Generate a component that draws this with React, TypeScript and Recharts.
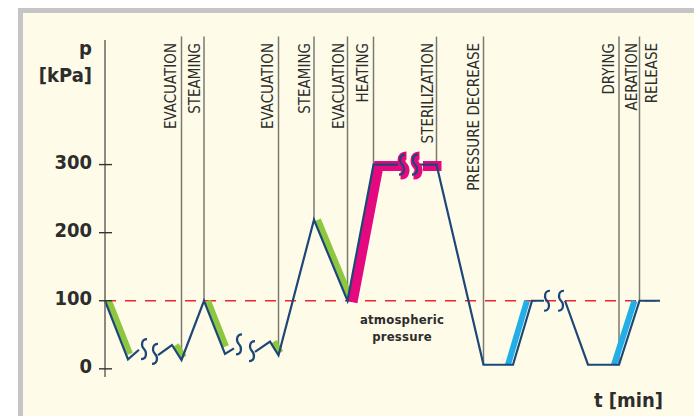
import React from "react";
import { ComposedChart, Line, XAxis, YAxis, ReferenceLine, ReferenceDot, Label } from "recharts";

const FONT = '"Liberation Sans Narrow", "DejaVu Sans Condensed", "Arial Narrow", sans-serif';
const BLUE = "#1d4778";
const GREEN = "#8dc63f";
const MAGENTA = "#e5097f";
const CYAN = "#22aee6";
const LINE_GRAY = "#7b7a72";
const TEXT = "#2d2d2d";

// pressure curve over time, p: null marks a break in the line
const pressure = [
  { t: 0, p: 100 }, { t: 4.6, p: 14 }, { t: 6.8, p: 28 }, { t: 8.5, p: null },
  { t: 10.6, p: 20 }, { t: 13.4, p: 35 }, { t: 15.3, p: 13 }, { t: 19.8, p: 100 },
  { t: 24, p: 22 }, { t: 25.8, p: 30 }, { t: 28, p: null },
  { t: 30, p: 25 }, { t: 33, p: 40 }, { t: 34.7, p: 20 }, { t: 41.8, p: 219 },
  { t: 48.5, p: 100 }, { t: 53.7, p: 300 }, { t: 58.6, p: 300 }, { t: 60.6, p: null },
  { t: 62.6, p: 300 }, { t: 66.3, p: 300 }, { t: 75.7, p: 6 }, { t: 81.6, p: 6 },
  { t: 85.4, p: 100 }, { t: 87.8, p: 100 }, { t: 89.8, p: null },
  { t: 92, p: 100 }, { t: 96.6, p: 6 }, { t: 102.8, p: 6 }, { t: 106.9, p: 100 }, { t: 111, p: 100 },
];

// highlighted stretches
const steamingParts = [
  [{ t: 0, p: 100 }, { t: 4.2, p: 22 }],
  [{ t: 13.4, p: 35 }, { t: 15, p: 17 }],
  [{ t: 19.8, p: 100 }, { t: 23.4, p: 33 }],
  [{ t: 33, p: 40 }, { t: 34.3, p: 24 }],
  [{ t: 41.8, p: 219 }, { t: 48.5, p: 100 }],
];
const heatingPart = [
  { t: 48.5, p: 100 }, { t: 53.7, p: 300 }, { t: 58.6, p: 300 }, { t: 60.6, p: null },
  { t: 62.6, p: 300 }, { t: 66.3, p: 300 },
];
const aerationParts = [
  [{ t: 81.6, p: 6 }, { t: 85.4, p: 100 }],
  [{ t: 102.8, p: 6 }, { t: 106.9, p: 100 }],
];

// time-axis breaks
const breaks = [
  { t: 7.8, p: 29 }, { t: 10, p: 22 }, { t: 26.8, p: 36 }, { t: 29.4, p: 26 },
  { t: 88.4, p: 100 }, { t: 91.2, p: 100 },
];
const sterilizationBreaks = [{ t: 59.4, p: 300 }, { t: 62, p: 300 }];

const phaseNames = [
  "EVACUATION", "STEAMING", "EVACUATION", "STEAMING", "EVACUATION", "HEATING",
  "STERILIZATION", "PRESSURE DECREASE", "DRYING", "AERATION", "RELEASE",
];
const phaseTimes = [15.3, 19.8, 34.7, 41.8, 48.5, 53.7, 66.3, 75.7, 102.8, 106.9, 106.9];
const phaseLineEnds = [13, 100, 20, 219, 100, 300, 300, 6, 6, 100, null];
const labelDx = [-11, -9.5, -11, -9.5, -9, -11, -9, -10, -10, -7.5, 12.5];

const yTicks = [0, 100, 200, 300];
const atmospheric = 100;
const Y_TOP = 483;

function PTick({ x, y, payload }: any) {
  return (
    <g>
      <line x1={x - 6} x2={x + 7} y1={y} y2={y} stroke="#333" strokeWidth={1.4} />
      <text x={x - 13} y={y} dy={4} textAnchor="end" fontFamily={FONT} fontWeight="bold" fontSize={20} fill={TEXT}>
        {payload.value}
      </text>
    </g>
  );
}

function squigglePath(x: number, y: number) {
  return `M${x + 3},${y - 10} C${x - 3},${y - 10} ${x - 3},${y - 3} ${x},${y} C${x + 3},${y + 3} ${x + 3},${y + 10} ${x - 3},${y + 10}`;
}

function Squiggle({ cx, cy, halo }: any) {
  const d = squigglePath(cx, cy);
  return (
    <g>
      {halo && <path d={d} fill="none" stroke={MAGENTA} strokeWidth={8} transform="translate(1.5,1)" />}
      <path d={d} fill="none" stroke={BLUE} strokeWidth={2.2} />
    </g>
  );
}

function PhaseLabel({ cx, cy, text, dx }: any) {
  const x = cx + dx;
  const y = cy + 3;
  return (
    <text x={x} y={y} dy={5.4} transform={`rotate(-90 ${x} ${y})`} textAnchor="end"
      fontFamily={FONT} fontSize={15} fill={TEXT}>
      {text}
    </text>
  );
}

export default function App() {
  return (
    <div style={{ position: "absolute", left: 0, top: 0, width: 694, height: 416, background: "#fff" }}>
      <style>{`
        .band-green { transform: translate(4px, 0px); }
        .band-magenta { transform: translate(5px, 1.5px); }
        .band-cyan { transform: translate(-5px, 0px); }
      `}</style>
      <div style={{
        position: "absolute", left: 18, top: 8, right: 0, bottom: 0, background: "#fefce8",
        borderTop: "5px solid #c5c5c7", borderLeft: "5px solid #c5c5c7",
      }} />
      <div style={{ position: "absolute", left: 0, top: 0 }}>
        <ComposedChart width={694} height={416} margin={{ top: 40, right: 29, bottom: 0, left: 0 }}>
          <XAxis type="number" dataKey="t" domain={[0, 112]} axisLine={false} tickLine={false} tick={false} height={39}>
            <Label content={({ viewBox }: any) => (
              <text x={viewBox.x + viewBox.width - 2} y={viewBox.y + 30} textAnchor="end"
                fontFamily={FONT} fontWeight="bold" fontSize={20} fill={TEXT}>t [min]</text>
            )} />
          </XAxis>
          <YAxis type="number" dataKey="p" domain={[-12, Y_TOP]} ticks={yTicks} interval={0} width={105}
            axisLine={{ stroke: "#66655f", strokeWidth: 1.5 }} tickLine={false} tickSize={0} tickMargin={0}
            tick={(props: any) => <PTick {...props} />}>
            <Label content={({ viewBox }: any) => (
              <g fontFamily={FONT} fontWeight="bold" fontSize={20} fill={TEXT} textAnchor="end">
                <text x={viewBox.x + viewBox.width - 13} y={viewBox.y + 15}>p</text>
                <text x={viewBox.x + viewBox.width - 13} y={viewBox.y + 42}>[kPa]</text>
              </g>
            )} />
          </YAxis>

          {phaseNames.map((name, i) =>
            phaseLineEnds[i] === null ? null : (
              <ReferenceLine key={`pl-${i}`} ifOverflow="visible" stroke={LINE_GRAY} strokeWidth={1.5}
                segment={[{ x: phaseTimes[i], y: Y_TOP + 5 }, { x: phaseTimes[i], y: phaseLineEnds[i] as number }]} />
            )
          )}
          {phaseNames.map((name, i) => (
            <ReferenceDot key={`lb-${i}`} x={phaseTimes[i]} y={Y_TOP} ifOverflow="visible"
              shape={(props: any) => <PhaseLabel cx={props.cx} cy={props.cy} text={name} dx={labelDx[i]} />} />
          ))}

          <ReferenceLine ifOverflow="visible" stroke="#e8262b" strokeWidth={1.6} strokeDasharray="11 9"
            segment={[{ x: 0, y: atmospheric }, { x: 111.5, y: atmospheric }]} />

          {steamingParts.map((part, i) => (
            <Line key={`g-${i}`} data={part} dataKey="p" type="linear" className="band-green" stroke={GREEN}
              strokeWidth={6} dot={false} activeDot={false} isAnimationActive={false} />
          ))}
          <Line data={heatingPart} dataKey="p" type="linear" className="band-magenta" stroke={MAGENTA}
            strokeWidth={10} dot={false} activeDot={false} isAnimationActive={false} />
          {aerationParts.map((part, i) => (
            <Line key={`c-${i}`} data={part} dataKey="p" type="linear" className="band-cyan" stroke={CYAN}
              strokeWidth={6} dot={false} activeDot={false} isAnimationActive={false} />
          ))}
          <Line data={pressure} dataKey="p" type="linear" stroke={BLUE} strokeWidth={2.2}
            dot={false} activeDot={false} isAnimationActive={false} />

          {breaks.map((b, i) => (
            <ReferenceDot key={`br-${i}`} x={b.t} y={b.p} shape={(props: any) => <Squiggle cx={props.cx} cy={props.cy} />} />
          ))}
          {sterilizationBreaks.map((b, i) => (
            <ReferenceDot key={`sb-${i}`} x={b.t} y={b.p} shape={(props: any) => <Squiggle cx={props.cx} cy={props.cy} halo />} />
          ))}

          <ReferenceDot x={59.4} y={atmospheric} shape={(props: any) => (
            <g fontFamily={FONT} fontWeight="bold" fontSize={13} fill={TEXT} textAnchor="middle" letterSpacing={0.2}>
              <text x={props.cx} y={props.cy + 23}>atmospheric</text>
              <text x={props.cx} y={props.cy + 40}>pressure</text>
            </g>
          )} />
        </ComposedChart>
      </div>
    </div>
  );
}
